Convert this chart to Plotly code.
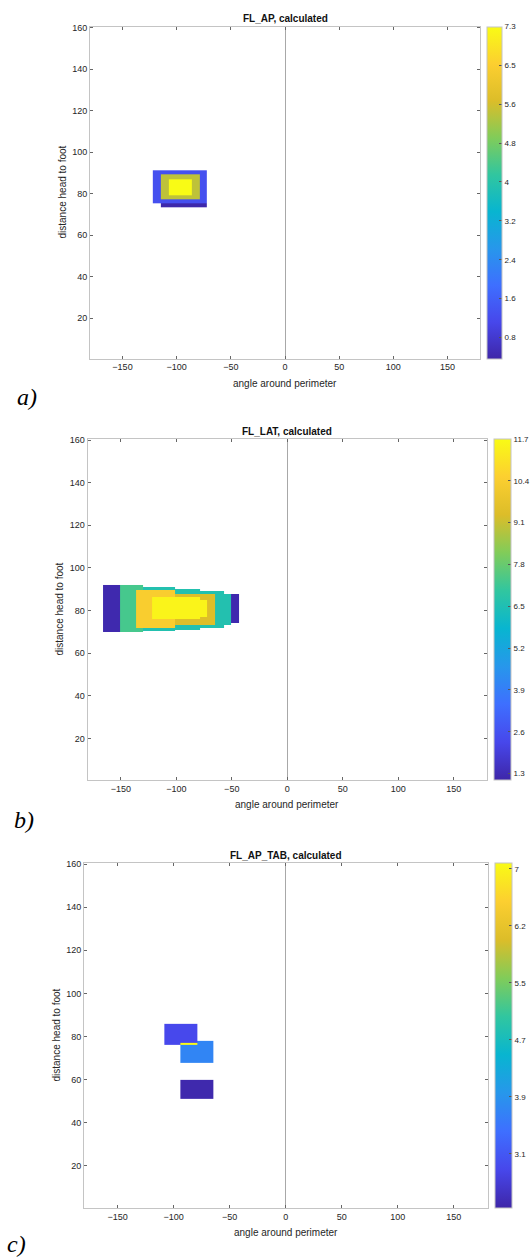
import numpy as np
import plotly.graph_objects as go

W, H = 532, 1257

# ---------------- data ----------------
PANEL_TITLES = ["FL_AP, calculated", "FL_LAT, calculated", "FL_AP_TAB, calculated"]
PANEL_LETTERS = ["a)", "b)", "c)"]
X_TICKS = [-150, -100, -50, 0, 50, 100, 150]
Y_TICKS = [20, 40, 60, 80, 100, 120, 140, 160]

# patches of the pressure map, painted in order: value, angle range, distance range
A_VALUES = [1.3, 0.4, 5.5, 7.3]
A_X0 = [-122, -114.6, -114.6, -107.2]
A_X1 = [-72, -72, -78.3, -85.7]
A_Y0 = [75.2, 73.3, 77.1, 79.2]
A_Y1 = [91.2, 75.2, 89.3, 87.0]

B_VALUES = [1.2, 7.3, 6.6, 6.6, 6.6, 6.6, 1.2, 10.4, 9.4, 11.5, 11.5]
B_X0 = [-166, -151, -130, -101, -79, -57, -51, -136, -101, -122, -79]
B_X1 = [-151, -130, -101, -79, -57, -51, -43, -101, -65, -79, -72]
B_Y0 = [70, 70, 70.5, 71, 72, 73, 74, 72, 73, 76, 77]
B_Y1 = [92, 92, 91, 90, 89.2, 88, 88, 89.5, 88, 86.2, 85.1]

C_VALUES = [3.7, 2.9, 7.08, 2.4]
C_X0 = [-93.6, -108.3, -93.6, -93.6]
C_X1 = [-64.5, -79.3, -79.3, -64.5]
C_Y0 = [68, 76.2, 76.2, 50.9]
C_Y1 = [77.9, 85.9, 77.1, 60]

CB_RANGES = [(0.36, 7.3), (1.1, 11.7), (2.36, 7.08)]
CB_TICKTEXT = [
    ["0.8", "1.6", "2.4", "3.2", "4", "4.8", "5.6", "6.5", "7.3"],
    ["1.3", "2.6", "3.9", "5.2", "6.5", "7.8", "9.1", "10.4", "11.7"],
    ["3.1", "3.9", "4.7", "5.5", "6.2", "7"],
]
CB_TICK_RANGE = [(0.8, 7.3), (1.3, 11.7), (3.1, 7.0)]

# parula colormap
PARULA = [
    (0.2422, 0.1504, 0.6603), (0.2803, 0.2782, 0.9221), (0.2440, 0.4358, 0.9988),
    (0.1540, 0.5902, 0.9218), (0.0297, 0.7082, 0.8163), (0.1938, 0.7758, 0.6251),
    (0.5044, 0.7993, 0.3480), (0.8634, 0.7406, 0.1596), (0.9892, 0.8136, 0.1885),
    (0.9769, 0.9839, 0.0805),
]
colorscale = [[i / (len(PARULA) - 1), "rgb(%d,%d,%d)" % tuple(int(round(c * 255)) for c in col)]
              for i, col in enumerate(PARULA)]


def build_grid(vals, x0, x1, y0, y1):
    xe = sorted(set(x0) | set(x1))
    ye = sorted(set(y0) | set(y1))
    z = [[None] * (len(xe) - 1) for _ in range(len(ye) - 1)]
    for v, a, b, c, d in zip(vals, x0, x1, y0, y1):
        for j in range(len(xe) - 1):
            xm = 0.5 * (xe[j] + xe[j + 1])
            if not (a <= xm <= b):
                continue
            for i in range(len(ye) - 1):
                ym = 0.5 * (ye[i] + ye[i + 1])
                if c <= ym <= d:
                    z[i][j] = v
    return xe, ye, z


panels = [
    (A_VALUES, A_X0, A_X1, A_Y0, A_Y1),
    (B_VALUES, B_X0, B_X1, B_Y0, B_Y1),
    (C_VALUES, C_X0, C_X1, C_Y0, C_Y1),
]

# pixel layout: plot left, right, top, bottom ; colorbar left, right
LAYOUT_PX = [
    dict(l=90, r=480, t=26.5, b=358.5, cl=487, cr=502, tt=18.5, xt=383, yt=62, let=(27, 397)),
    dict(l=87.5, r=487, t=439, b=780, cl=494, cr=511, tt=431, xt=804, yt=59, let=(24, 820)),
    dict(l=84, r=487.5, t=863, b=1208, cl=495, cr=512, tt=855, xt=1232, yt=56, let=(16, 1244)),
]

fig = go.Figure()
FONT = "Liberation Sans, Arial, sans-serif"
TXT = "#262626"
LINE = "#c4c4c4"

annotations = []
for k, (vals, x0, x1, y0, y1) in enumerate(panels):
    L = LAYOUT_PX[k]
    xe, ye, z = build_grid(vals, x0, x1, y0, y1)
    n = "" if k == 0 else str(k + 1)
    fig.add_trace(go.Heatmap(x=xe, y=ye, z=z, coloraxis="coloraxis" + n,
                             xaxis="x" + n, yaxis="y" + n, hoverongaps=False))
    xd = [L["l"] / W, L["r"] / W]
    yd = [1 - L["b"] / H, 1 - L["t"] / H]
    axcommon = dict(ticks="inside", ticklen=3, tickcolor="#666", showline=True, linecolor=LINE,
                    linewidth=1, mirror="ticks", showgrid=False,
                    tickfont=dict(family=FONT, size=9, color=TXT))
    fig.update_layout(**{
        "xaxis" + n: dict(domain=xd, range=[-180, 180], tickvals=X_TICKS, zeroline=True,
                          zerolinecolor="#a8a8a8", zerolinewidth=1,
                          anchor="y" + n, **axcommon),
        "yaxis" + n: dict(domain=yd, range=[0.5, 160.5], tickvals=Y_TICKS, zeroline=False,
                          anchor="x" + n, **axcommon),
    })
    cmin, cmax = CB_RANGES[k]
    t0, t1 = CB_TICK_RANGE[k]
    tv = list(np.linspace(t0, t1, len(CB_TICKTEXT[k])))
    fig.update_layout(**{
        "coloraxis" + n: dict(
            cmin=cmin, cmax=cmax, colorscale=colorscale,
            colorbar=dict(x=L["cl"] / W, xanchor="left", y=1 - (L["t"] + L["b"]) / 2 / H,
                          yanchor="middle", len=(L["b"] - L["t"]) / H, lenmode="fraction",
                          thickness=L["cr"] - L["cl"], thicknessmode="pixels",
                          xpad=0, ypad=0, outlinewidth=1, outlinecolor=LINE,
                          ticks="inside", ticklen=3, tickcolor="#555",
                          tickvals=tv, ticktext=CB_TICKTEXT[k],
                          tickfont=dict(family=FONT, size=8, color=TXT)))
    })
    cx = (L["l"] + L["r"]) / 2
    annotations.append(dict(x=cx / W, y=1 - L["tt"] / H, xref="paper", yref="paper",
                            text="<b>" + PANEL_TITLES[k] + "</b>", showarrow=False,
                            font=dict(family=FONT, size=10, color="#111"),
                            xanchor="center", yanchor="middle"))
    annotations.append(dict(x=cx / W, y=1 - L["xt"] / H, xref="paper", yref="paper",
                            text="angle around perimeter", showarrow=False,
                            font=dict(family=FONT, size=10, color=TXT),
                            xanchor="center", yanchor="middle"))
    annotations.append(dict(x=L["yt"] / W, y=1 - (L["t"] + L["b"]) / 2 / H, xref="paper",
                            yref="paper", text="distance head to foot", showarrow=False,
                            textangle=-90, font=dict(family=FONT, size=10, color=TXT),
                            xanchor="center", yanchor="middle"))
    annotations.append(dict(x=L["let"][0] / W, y=1 - L["let"][1] / H, xref="paper",
                            yref="paper", text="<i>" + PANEL_LETTERS[k] + "</i>",
                            showarrow=False,
                            font=dict(family="Liberation Serif, Times New Roman, serif",
                                      size=24, color="#000"),
                            xanchor="center", yanchor="middle"))

fig.update_layout(width=W, height=H, margin=dict(l=0, r=0, t=0, b=0, autoexpand=False),
                  paper_bgcolor="white", plot_bgcolor="white",
                  annotations=annotations, showlegend=False)

fig.write_html("out.html", config={"displayModeBar": False},
               post_script="document.body.style.margin='0px';"
                           "document.body.style.padding='0px';"
                           "document.body.style.overflow='hidden';")
